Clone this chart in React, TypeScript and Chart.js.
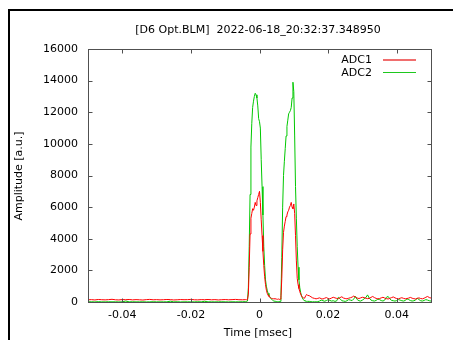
import { useEffect, useRef } from "react";
import { Chart, registerables } from "chart.js";

Chart.register(...registerables);

// ---- data (time in msec) ----
const baseX = [
  -0.05, -0.049, -0.048, -0.047, -0.046, -0.045, -0.044, -0.043, -0.042, -0.041, -0.04, -0.039,
  -0.038, -0.037, -0.036, -0.035, -0.034, -0.033, -0.032, -0.031, -0.03, -0.029, -0.028, -0.027,
  -0.026, -0.025, -0.024, -0.023, -0.022, -0.021, -0.02, -0.019, -0.018, -0.017, -0.016, -0.015,
  -0.014, -0.013, -0.012, -0.011, -0.01, -0.009, -0.008, -0.007, -0.006, -0.005, -0.004,
];
const pulseX = [
  -0.00375, -0.0035, -0.00325, -0.003, -0.00275, -0.0025, -0.00225, -0.002, -0.00175, -0.0015, -0.00125, -0.001,
  -0.00075, -0.0005, -0.00025, 0, 0.00025, 0.0005, 0.00075, 0.001, 0.00125, 0.0015, 0.00175, 0.002,
  0.00225, 0.0025, 0.00275, 0.003, 0.00325, 0.0035, 0.00375, 0.004, 0.00425, 0.0045, 0.00475, 0.005,
  0.00525, 0.0055, 0.00575, 0.006, 0.00625, 0.0065, 0.00675, 0.007, 0.00725, 0.0075, 0.00775, 0.008,
  0.00825, 0.0085, 0.00875, 0.009, 0.00925, 0.0095, 0.00975, 0.01, 0.01025, 0.0105, 0.01075, 0.011,
  0.01125, 0.0115, 0.01175, 0.012, 0.01225, 0.0125, 0.01275, 0.013, 0.01325, 0.0135, 0.01375, 0.014,
];
const tailX = [
  0.0145, 0.015, 0.0155, 0.016, 0.0165, 0.017, 0.0175, 0.018, 0.0185, 0.019, 0.0195, 0.02,
  0.0205, 0.021, 0.0215, 0.022, 0.0225, 0.023, 0.0235, 0.024, 0.0245, 0.025, 0.0255, 0.026,
  0.0265, 0.027, 0.0275, 0.028, 0.0285, 0.029, 0.0295, 0.03, 0.0305, 0.031, 0.0315, 0.032,
  0.0325, 0.033, 0.0335, 0.034, 0.0345, 0.035, 0.0355, 0.036, 0.0365, 0.037, 0.0375, 0.038,
  0.0385, 0.039, 0.0395, 0.04, 0.0405, 0.041, 0.0415, 0.042, 0.0425, 0.043, 0.0435, 0.044,
  0.0445, 0.045, 0.0455, 0.046, 0.0465, 0.047, 0.0475, 0.048, 0.0485, 0.049, 0.0495, 0.05,
];

const adc1Base = [
  140, 150, 130, 160, 145, 135, 150, 170, 140, 130, 155, 145,
  160, 135, 150, 140, 125, 150, 165, 140, 150, 135, 145, 160,
  150, 130, 140, 155, 145, 150, 165, 140, 135, 150, 145, 160,
  140, 150, 130, 145, 155, 140, 150, 165, 145, 140, 150,
];
const adc1Pulse = [
  140, 160, 500, 2200, 4300, 5300, 5600, 5900, 5800, 6000, 6300, 6100,
  6400, 6600, 6800, 7000, 6300, 5200, 4200, 3200, 2300, 1600, 1100, 750,
  550, 430, 350, 300, 260, 230, 220, 200, 210, 190, 200, 180,
  170, 190, 160, 180, 300, 1500, 3300, 4400, 4800, 5100, 5400, 5500,
  5700, 5800, 6000, 6100, 6300, 6000, 5900, 6200, 5600, 4200, 2600, 1500,
  1100, 850, 650, 500, 380, 300, 260, 250, 300, 400, 480, 420,
];
const adc1Tail = [
  400, 330, 260, 230, 200, 230, 260, 210, 190, 240, 280, 220,
  200, 250, 300, 260, 230, 210, 280, 330, 250, 220, 200, 240,
  270, 310, 380, 300, 250, 220, 260, 300, 280, 240, 210, 230,
  290, 350, 280, 230, 200, 220, 260, 300, 250, 210, 190, 230,
  280, 320, 260, 220, 200, 240, 270, 230, 200, 220, 250, 290,
  240, 210, 190, 230, 260, 220, 200, 240, 300, 350, 280, 250,
];

const adc2Base = [
  10, 15, 5, 20, 10, 8, 15, 10, 12, 5, 10, 60,
  10, 15, 8, 10, 12, 5, 10, 15, 10, 8, 12, 10,
  50, 10, 15, 5, 10, 12, 8, 10, 15, 10, 45, 10,
  12, 8, 10, 15, 10, 5, 12, 10, 8, 15, 20,
];
const adc2Pulse = [
  30, 60, 900, 3500, 6800, 9800, 11300, 12300, 12700, 13000, 13200, 13100,
  12900, 12400, 11600, 11400, 11000, 9000, 7300, 5500, 3500, 2300, 1400, 1000,
  750, 550, 420, 330, 250, 180, 120, 80, 60, 50, 40, 30,
  20, 20, 30, 40, 400, 2800, 6000, 8000, 8900, 9700, 10500, 11100,
  11500, 11900, 12000, 12100, 12300, 12900, 13900, 13300, 10500, 7300, 5300, 3500,
  2200, 1400, 900, 600, 400, 250, 150, 100, 70, 50, 40, 40,
];
const adc2Tail = [
  40, 20, 10, 15, 10, 20, 60, 120, 80, 50, 90, 150,
  100, 60, 80, 40, 70, 300, 200, 80, 60, 40, 80, 150,
  120, 90, 200, 350, 150, 80, 60, 120, 200, 280, 450, 250,
  120, 80, 60, 100, 180, 150, 90, 60, 120, 300, 350, 200,
  100, 80, 60, 90, 150, 120, 80, 60, 100, 200, 150, 90,
  60, 80, 120, 250, 150, 80, 60, 100, 150, 120, 80, 60,
];

const timeMs = [...baseX, ...pulseX, ...tailX];
const adc1 = [...adc1Base, ...adc1Pulse, ...adc1Tail];
const adc2 = [...adc2Base, ...adc2Pulse, ...adc2Tail];

const seriesLabels = ["ADC1", "ADC2"];
const seriesColors = ["rgb(255,0,0)", "rgb(0,200,0)"];
const legendColors = ["rgb(240,110,110)", "rgb(30,200,30)"];

const xTicks = [-0.04, -0.02, 0, 0.02, 0.04];
const xTickLabels = ["-0.04", "-0.02", "0", "0.02", "0.04"];

const TITLE = "[D6 Opt.BLM]  2022-06-18_20:32:37.348950";
const X_TITLE = "Time [msec]";
const Y_TITLE = "Amplitude [a.u.]";
const FONT = '11px "DejaVu Sans"';
const FRAME = "#505050";

const gnuplotPlugin = {
  id: "gnuplotFrame",
  afterDraw(chart: any) {
    const { ctx, chartArea } = chart;
    const { left, right, top, bottom } = chartArea;
    const xs = chart.scales.x;
    const ys = chart.scales.y;
    ctx.save();
    ctx.strokeStyle = FRAME;
    ctx.lineWidth = 1;
    ctx.strokeRect(left + 0.5, top + 0.5, right - left, bottom - top);
    const tl = 4;
    ctx.beginPath();
    xs.ticks.forEach((t: any) => {
      const px = Math.round(xs.getPixelForValue(t.value)) + 0.5;
      ctx.moveTo(px, bottom + 0.5);
      ctx.lineTo(px, bottom + 0.5 - tl);
      ctx.moveTo(px, top + 0.5);
      ctx.lineTo(px, top + 0.5 + tl);
    });
    ys.ticks.forEach((t: any) => {
      const py = Math.round(ys.getPixelForValue(t.value)) + 0.5;
      ctx.moveTo(left + 0.5, py);
      ctx.lineTo(left + 0.5 + tl, py);
      ctx.moveTo(right + 0.5, py);
      ctx.lineTo(right + 0.5 - tl, py);
    });
    ctx.stroke();

    ctx.fillStyle = "#000";
    ctx.font = FONT;
    ctx.textBaseline = "alphabetic";
    ctx.textAlign = "center";
    ctx.fillText(TITLE, 258, 33);
    ctx.fillText(X_TITLE, 258, 336);
    ctx.save();
    ctx.translate(22, 176);
    ctx.rotate(-Math.PI / 2);
    ctx.fillText(Y_TITLE, 0, 0);
    ctx.restore();

    // legend
    for (let i = 0; i < seriesLabels.length; i++) {
      const ly = 59 + i * 13;
      ctx.textAlign = "right";
      ctx.fillStyle = "#000";
      ctx.fillText(seriesLabels[i], 372, ly + 4);
      ctx.fillStyle = legendColors[i];
      ctx.fillRect(383, ly, 33, i === 0 ? 2 : 1);
    }
    ctx.restore();
  },
};

export default function App() {
  const ref = useRef<HTMLCanvasElement>(null);
  useEffect(() => {
    const chart = new Chart(ref.current as HTMLCanvasElement, {
      type: "line",
      data: {
        datasets: [
          {
            label: seriesLabels[0],
            data: timeMs.map((x, i) => ({ x, y: adc1[i] })),
            borderColor: seriesColors[0],
            borderWidth: 1,
            pointRadius: 0,
            tension: 0,
            fill: false,
          },
          {
            label: seriesLabels[1],
            data: timeMs.map((x, i) => ({ x, y: adc2[i] })),
            borderColor: seriesColors[1],
            borderWidth: 1,
            pointRadius: 0,
            tension: 0,
            fill: false,
          },
        ],
      },
      options: {
        animation: false,
        responsive: false,
        devicePixelRatio: 1,
        layout: { padding: { left: 0, top: 49, right: 22, bottom: 0 } },
        plugins: {
          legend: { display: false },
          title: { display: false },
          tooltip: { enabled: false },
        },
        scales: {
          x: {
            type: "linear",
            min: -0.05,
            max: 0.05,
            grid: { display: false, drawTicks: false },
            border: { display: false },
            afterBuildTicks: (s: any) => {
              s.ticks = xTicks.map((v) => ({ value: v }));
            },
            afterFit: (s: any) => {
              s.height = 38;
            },
            ticks: {
              padding: 7,
              color: "#000",
              font: { family: "DejaVu Sans", size: 11 },
              maxRotation: 0,
              autoSkip: false,
              callback: (_v: any, i: number) => xTickLabels[i],
            },
          },
          y: {
            type: "linear",
            min: 0,
            max: 16000,
            grid: { display: false, drawTicks: false },
            border: { display: false },
            afterFit: (s: any) => {
              s.width = 88;
            },
            ticks: {
              stepSize: 2000,
              padding: 10,
              color: "#000",
              font: { family: "DejaVu Sans", size: 11 },
              callback: (v: any) => String(v),
            },
          },
        },
      },
      plugins: [gnuplotPlugin],
    } as any);
    return () => chart.destroy();
  }, []);
  return (
    <div style={{ position: "fixed", left: 0, top: 0, width: 453, height: 340, overflow: "hidden", background: "#fff" }}>
      <div
        style={{
          position: "absolute",
          left: 8,
          top: 9,
          width: 600,
          height: 500,
          borderLeft: "2px solid #000",
          borderTop: "2px solid #000",
        }}
      />
      <canvas
        ref={ref}
        width={453}
        height={340}
        style={{ position: "absolute", left: 0, top: 0, width: 453, height: 340 }}
      />
    </div>
  );
}
